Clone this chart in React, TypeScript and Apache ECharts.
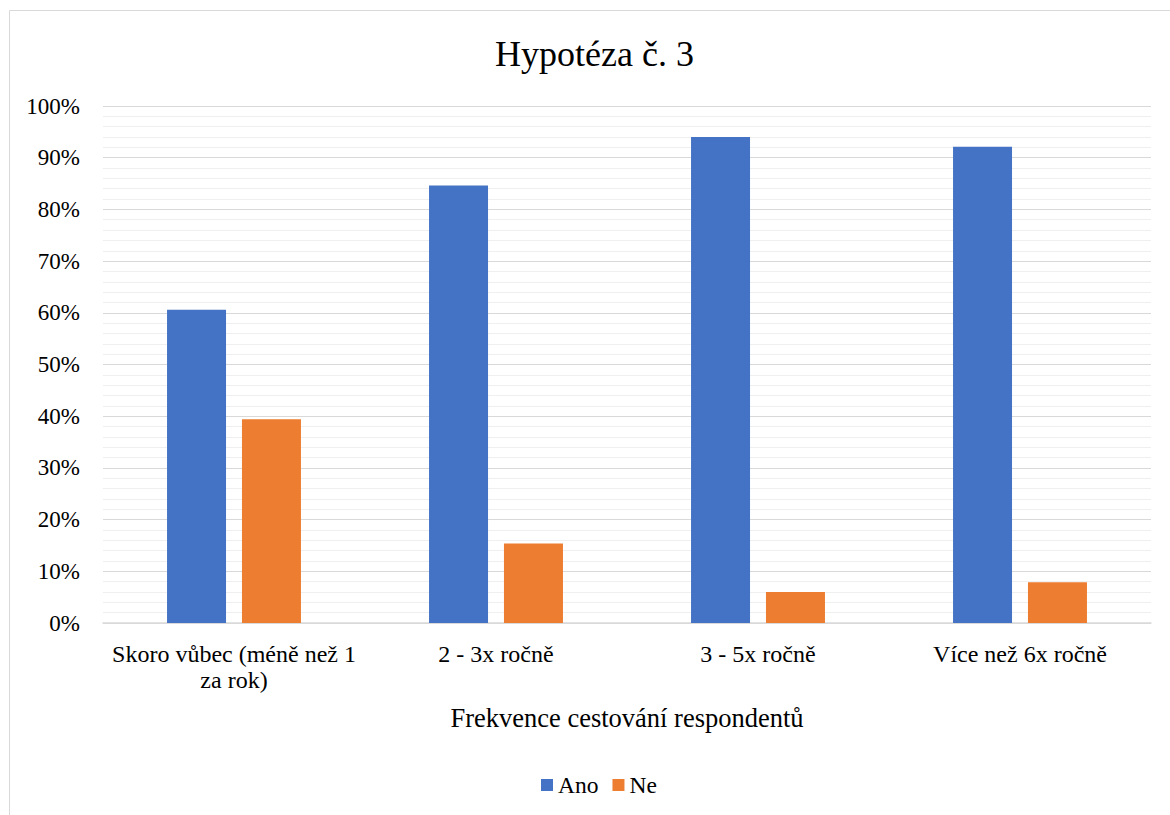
import React, { useEffect, useRef } from "react";
import * as echarts from "echarts";

const categories = ["Skoro vůbec (méně než 1\nza rok)", "2 - 3x ročně", "3 - 5x ročně", "Více než 6x ročně"];
const anoValues = [60.6, 84.6, 94.0, 92.1];
const neValues = [39.4, 15.4, 6.0, 7.9];
const seriesNames = ["Ano", "Ne"];
const titleText = "Hypotéza č. 3";
const xAxisName = "Frekvence cestování respondentů";

const FONT = "Times New Roman, Liberation Serif, serif";

export default function App() {
  const ref = useRef<HTMLDivElement>(null);
  useEffect(() => {
    if (!ref.current) return;
    const chart = echarts.init(ref.current, null, { renderer: "svg" });
    chart.setOption({
      animation: false,
      backgroundColor: "#ffffff",
      textStyle: { fontFamily: FONT },
      title: {
        text: titleText,
        left: 490,
        top: 31,
        textStyle: { fontFamily: FONT, fontSize: 36, fontWeight: "normal", color: "#000000" },
      },
      graphic: [
        {
          type: "rect",
          shape: { x: 9.5, y: 10.5, width: 1300, height: 1000 },
          style: { fill: "none", stroke: "#d9d9d9", lineWidth: 1 },
          silent: true,
          z: -1,
        },
      ],
      legend: {
        data: seriesNames,
        bottom: 13,
        left: 536,
        itemWidth: 12,
        itemHeight: 12,
        itemGap: 14,
        icon: "rect",
        textStyle: { fontFamily: FONT, fontSize: 23.5, color: "#000000", padding: [0, 0, 0, 0] },
      },
      grid: { left: 103, right: 19, top: 106, bottom: 192, containLabel: false },
      xAxis: {
        type: "category",
        data: categories,
        name: xAxisName,
        nameLocation: "middle",
        nameGap: 81,
        nameTextStyle: { fontFamily: FONT, fontSize: 26.5, color: "#000000", verticalAlign: "top" },
        axisLine: { show: true, lineStyle: { color: "#d9d9d9", width: 1.5 } },
        axisTick: { show: false },
        axisLabel: {
          fontFamily: FONT,
          fontSize: 24,
          color: "#000000",
          margin: 18,
          lineHeight: 26,
          interval: 0,
        },
        splitLine: { show: false },
      },
      yAxis: {
        type: "value",
        min: 0,
        max: 100,
        interval: 10,
        axisLine: { show: false },
        axisTick: { show: false },
        axisLabel: {
          fontFamily: FONT,
          fontSize: 23,
          color: "#000000",
          margin: 23,
          formatter: "{value}%",
        },
        splitLine: { show: true, lineStyle: { color: "#d9d9d9", width: 1 } },
        minorTick: { show: false, splitNumber: 5 },
        minorSplitLine: { show: true, lineStyle: { color: "#efefef", width: 1 } },
      },
      series: [
        {
          name: seriesNames[0],
          type: "bar",
          data: anoValues,
          barWidth: 59,
          barGap: "27%",
          itemStyle: { color: "#4472C4" },
        },
        {
          name: seriesNames[1],
          type: "bar",
          data: neValues,
          barWidth: 59,
          barGap: "27%",
          itemStyle: { color: "#ED7D31" },
        },
      ],
    });
    return () => chart.dispose();
  }, []);
  return (
    <div
      ref={ref}
      style={{ position: "fixed", left: 0, top: 0, width: 1170, height: 815 }}
    />
  );
}
